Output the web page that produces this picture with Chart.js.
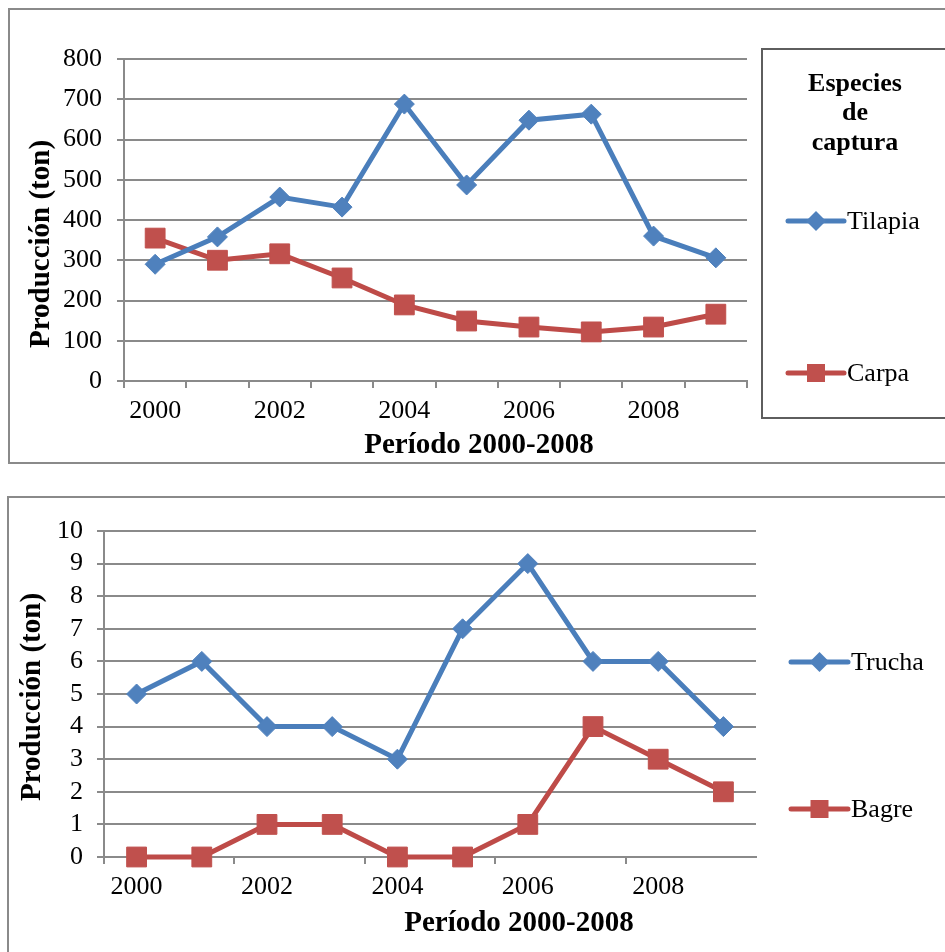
<!DOCTYPE html>
<html>
<head>
<meta charset="utf-8">
<script src="https://cdn.jsdelivr.net/npm/chart.js@4/dist/chart.umd.min.js"></script>
<style>
  html,body{margin:0;padding:0;background:#fff;overflow:hidden;}
  body{width:945px;height:952px;position:relative;}
  .panel{position:absolute;border:2px solid #8a8a8a;box-sizing:border-box;}
  .legbox{position:absolute;border:2px solid #5e5e5e;box-sizing:border-box;}
  canvas{position:absolute;left:0;}
</style>
</head>
<body>
<div class="panel" style="left:8px;top:8px;width:960px;height:456px;"></div>
<div class="legbox" style="left:761px;top:48px;width:200px;height:371px;"></div>
<div class="panel" style="left:7px;top:496px;width:960px;height:480px;"></div>
<canvas id="c1" width="945" height="480" style="top:0"></canvas>
<canvas id="c2" width="945" height="472" style="top:480px"></canvas>
<script>
// data
const YEARS = ["2000","2001","2002","2003","2004","2005","2006","2007","2008","2009"];
const TILAPIA = [290, 358, 457, 432, 688, 487, 648, 663, 360, 306];
const CARPA   = [355, 300, 316, 256, 189, 149, 134, 122, 134, 166];
const TRUCHA  = [5, 6, 4, 4, 3, 7, 9, 6, 6, 4];
const BAGRE   = [0, 0, 1, 1, 0, 0, 1, 4, 3, 2];
const Y1_MAX = 800, Y1_STEP = 100;
const Y2_MAX = 10,  Y2_STEP = 1;
const LEGEND_TITLE = ["Especies","de","captura"];
const X_TITLE = "Período 2000-2008";
const Y_TITLE = "Producción (ton)";

const FONT = "'Liberation Serif','Times New Roman',serif";
const BLUE = "#4a7ebb", BLUE_FILL = "#4f81bd";
const RED = "#be4b48", RED_FILL = "#c0504d";
const GRID = "#8a8a8a";
const LW = 5;

function serie(label, data, line, fill, style, r){
  return {
    label, data,
    borderColor: line, backgroundColor: fill,
    borderWidth: LW,
    pointStyle: style, pointRadius: r, pointHoverRadius: r,
    pointBackgroundColor: fill, pointBorderColor: fill, pointBorderWidth: 1,
    tension: 0, clip: false
  };
}

// axis titles + hand placed legend (as in the office chart)
const decor = {
  id: "decor",
  afterDraw(chart, args, o){
    const ctx = chart.ctx;
    ctx.save();
    ctx.fillStyle = "#000";
    ctx.textAlign = "center"; ctx.textBaseline = "middle";
    ctx.font = "bold 29px " + FONT;
    ctx.fillText(X_TITLE, o.xt[0], o.xt[1]);
    ctx.save();
    ctx.translate(o.yt[0], o.yt[1]); ctx.rotate(-Math.PI/2);
    ctx.fillText(Y_TITLE, 0, 0);
    ctx.restore();
    if(o.title){
      ctx.font = "bold 26px " + FONT;
      o.title.forEach((t,i)=> ctx.fillText(t, o.tx, o.ty + i*29.5));
    }
    chart.data.datasets.forEach((ds,i)=>{
      const [x0,x1,y] = o.items[i];
      ctx.strokeStyle = ds.borderColor; ctx.lineWidth = LW; ctx.lineCap = "round";
      ctx.beginPath(); ctx.moveTo(x0,y); ctx.lineTo(x1,y); ctx.stroke();
      const cx = (x0+x1)/2;
      ctx.fillStyle = ds.pointBackgroundColor;
      ctx.beginPath();
      if(ds.pointStyle === "rectRot"){
        const r = 10;
        ctx.moveTo(cx-r,y); ctx.lineTo(cx,y-r); ctx.lineTo(cx+r,y); ctx.lineTo(cx,y+r);
      }else{
        ctx.rect(cx-9,y-9,18,18);
      }
      ctx.closePath(); ctx.fill();
      ctx.fillStyle = "#000"; ctx.textAlign = "left";
      ctx.font = "26px " + FONT;
      ctx.fillText(ds.label, x1+3, y+1);
      ctx.textAlign = "center";
    });
    ctx.restore();
  }
};

function makeChart(id, sets, ymax, ystep, box, everyTick, decorOpts){
  return new Chart(document.getElementById(id), {
    type: "line",
    data: { labels: YEARS, datasets: sets },
    plugins: [decor],
    options: {
      responsive: false, animation: false,
      layout: { autoPadding: false, padding: { left: 0, top: box.top, right: box.right, bottom: 0 } },
      plugins: { legend: { display: false }, tooltip: { enabled: false }, decor: decorOpts },
      scales: {
        x: {
          offset: true,
          afterFit: (s)=>{ s.height = box.xh; },
          border: { display: true, color: GRID, width: 2 },
          grid: {
            offset: true, drawOnChartArea: false, drawTicks: true, tickLength: 7, lineWidth: 2,
            color: (c)=> (everyTick || c.index % 2 === 0) ? GRID : "rgba(0,0,0,0)"
          },
          ticks: {
            autoSkip: false, maxRotation: 0, padding: 8, color: "#000",
            font: { family: FONT, size: 26 },
            callback: (v,i)=> i % 2 === 0 ? YEARS[i] : ""
          }
        },
        y: {
          min: 0, max: ymax,
          afterFit: (s)=>{ s.width = box.yw; },
          border: { display: true, color: GRID, width: 2 },
          grid: { color: GRID, lineWidth: 2, drawTicks: true, tickLength: 7 },
          ticks: { stepSize: ystep, autoSkip: false, padding: box.yp, color: "#000", font: { family: FONT, size: 26 } }
        }
      }
    }
  });
}

makeChart("c1",
  [serie("Tilapia", TILAPIA, BLUE, BLUE_FILL, "rectRot", 10),
   serie("Carpa", CARPA, RED, RED_FILL, "rect", 14)],
  Y1_MAX, Y1_STEP,
  { top: 59, right: 198, xh: 99, yw: 124, yp: 15 }, true,
  { xt: [479, 446], yt: [42, 244], title: LEGEND_TITLE, tx: 855, ty: 84,
    items: [[788, 844, 221], [788, 844, 373]] });

makeChart("c2",
  [serie("Trucha", TRUCHA, BLUE, BLUE_FILL, "rectRot", 10),
   serie("Bagre", BAGRE, RED, RED_FILL, "rect", 14)],
  Y2_MAX, Y2_STEP,
  { top: 51, right: 189, xh: 95, yw: 104, yp: 14 }, false,
  { xt: [519, 444], yt: [33, 217],
    items: [[791, 848, 182], [791, 848, 329]] });
</script>
</body>
</html>
